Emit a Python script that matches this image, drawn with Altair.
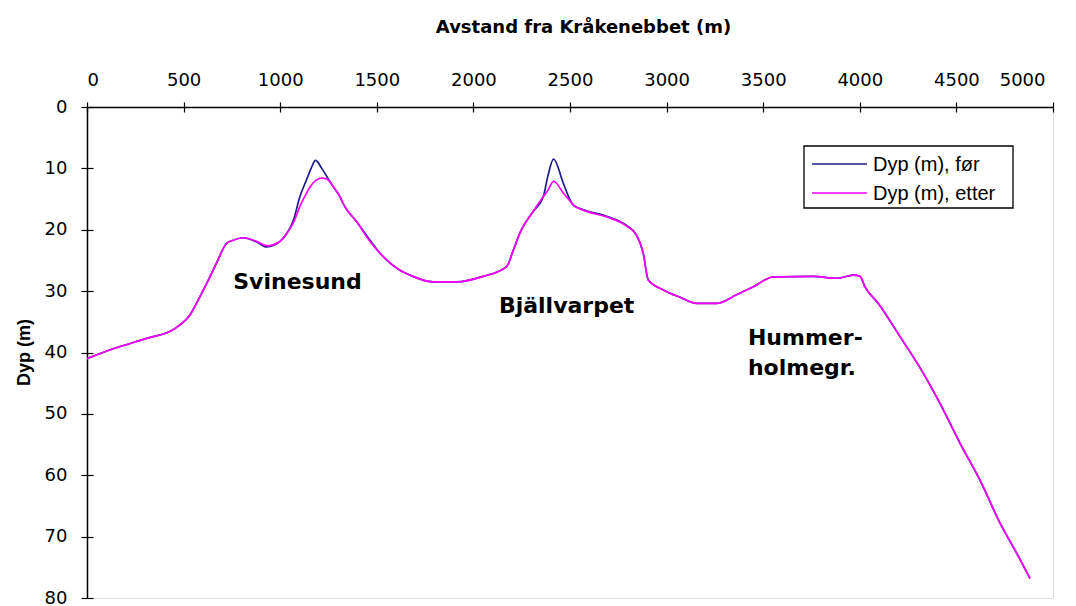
import altair as alt
import pandas as pd

# --- data ---
distance_m = [0, 136, 309, 445, 481, 533, 568, 620, 671, 723, 757, 808, 878, 930, 999,
              1034, 1068, 1102, 1137, 1160, 1183, 1215, 1241, 1275, 1309, 1330, 1396,
              1465, 1516, 1620, 1672, 1791, 1913, 2050, 2172, 2207, 2241, 2310, 2362,
              2385, 2415, 2465, 2500, 2517, 2586, 2690, 2793, 2845, 2879, 2905, 2983,
              3070, 3156, 3259, 3362, 3449, 3551, 3758, 3880, 3966, 4001, 4027, 4096,
              4208, 4329, 4415, 4519, 4622, 4726, 4812, 4881]

depth_after = [41.0, 39.4, 37.7, 36.3, 35.5, 33.9, 31.9, 28.7, 25.4, 22.2, 21.7, 21.3,
               21.9, 22.6, 21.9, 20.6, 18.9, 16.2, 14.0, 12.8, 12.0, 11.6, 11.7, 13.0,
               14.6, 16.0, 18.7, 21.9, 23.8, 26.6, 27.4, 28.5, 28.5, 27.6, 26.0, 23.3,
               20.5, 17.0, 14.6, 13.6, 12.1, 14.0, 15.3, 16.0, 17.0, 17.9, 19.4, 20.9,
               23.8, 28.2, 29.8, 31.0, 32.0, 32.0, 30.6, 29.3, 27.7, 27.6, 27.9, 27.4,
               27.6, 29.3, 32.0, 37.4, 43.4, 48.3, 54.8, 60.8, 67.8, 72.7, 76.8]

depth_before = [41.0, 39.4, 37.7, 36.3, 35.5, 33.9, 31.9, 28.7, 25.4, 22.2, 21.7, 21.3,
                22.0, 22.8, 21.9, 20.6, 18.5, 14.6, 11.8, 10.0, 8.7, 10.0, 11.3, 13.0,
                14.6, 16.0, 18.7, 21.7, 23.8, 26.6, 27.4, 28.5, 28.5, 27.6, 26.0, 23.3,
                20.5, 17.0, 14.6, 11.3, 8.5, 12.4, 15.1, 16.0, 16.9, 17.8, 19.3, 20.9,
                23.8, 28.2, 29.8, 31.0, 32.0, 32.0, 30.6, 29.3, 27.7, 27.6, 27.9, 27.4,
                27.6, 29.3, 32.0, 37.4, 43.4, 48.3, 54.8, 60.8, 67.8, 72.7, 76.8]

series_names = ["Dyp (m), før", "Dyp (m), etter"]
series_colors = ["#1c1c8c", "#ff00ff"]

x_ticks = [0, 500, 1000, 1500, 2000, 2500, 3000, 3500, 4000, 4500, 5000]
y_ticks = [0, 10, 20, 30, 40, 50, 60, 70, 80]

place_names = ["Svinesund", "Bjällvarpet", "Hummer-\nholmegr."]
place_x = [757, 2132, 3421]
place_depth = [29.7, 33.6, 38.8]

assert len(distance_m) == len(depth_after) == len(depth_before)

rows = []
for name, depths in zip(series_names, [depth_before, depth_after]):
    for x, d in zip(distance_m, depths):
        rows.append({"Avstand": x, "Dyp": d, "Serie": name})
df = pd.DataFrame(rows)
names_df = pd.DataFrame({"Avstand": place_x, "Dyp": place_depth, "Navn": place_names})

x_scale = alt.Scale(domain=[0, 5000], nice=False, zero=False)
y_scale = alt.Scale(domain=[0, 80], reverse=True, nice=False)
color_scale = alt.Scale(domain=series_names, range=series_colors)

lines = alt.Chart(df).mark_line(interpolate="monotone", strokeWidth=1.7).encode(
    x=alt.X("Avstand:Q", scale=x_scale,
            axis=alt.Axis(orient="top", values=x_ticks, format="d", grid=False,
                          domain=True, domainColor="black", domainWidth=1.5,
                          tickColor="black", tickSize=5, tickWidth=1.2,
                          labelFont="DejaVu Sans", labelFontSize=18, labelColor="black",
                          labelPadding=17, labelBaseline="alphabetic",
                          labelOffset={"condition": {"test": "datum.value == 5000",
                                                     "value": -8}, "value": 0},
                          title="Avstand fra Kråkenebbet (m)", titleFont="DejaVu Sans",
                          titleFontWeight="bold", titleFontSize=18, titleColor="black",
                          titleX=496, titleY=-75, titleBaseline="alphabetic",
                          titleAlign="center")),
    y=alt.Y("Dyp:Q", scale=y_scale,
            axis=alt.Axis(orient="left", values=y_ticks, format="d", grid=False,
                          domain=True, domainColor="black", domainWidth=1.5,
                          tickColor="black", tickSize=6, tickWidth=1.2,
                          labelFont="DejaVu Sans", labelFontSize=18, labelColor="black",
                          labelPadding=14,
                          title="Dyp (m)", titleFont="Liberation Sans",
                          titleFontWeight="bold", titleFontSize=18, titleColor="black",
                          titleX=-58, titleY=245, titleBaseline="alphabetic",
                          titleAlign="center", titleAngle=270)),
    color=alt.Color("Serie:N", scale=color_scale, legend=None),
)

names = alt.Chart(names_df).mark_text(
    align="left", baseline="alphabetic", font="DejaVu Sans", fontWeight="bold",
    fontSize=22, lineBreak="\n", lineHeight=30, color="black"
).encode(
    x=alt.X("Avstand:Q", scale=x_scale,
            axis=alt.Axis(orient="top", values=x_ticks, grid=False, domain=False,
                          labels=False, tickColor="black", tickSize=5, tickWidth=1.2,
                          offset=-5, title=None)),
    y=alt.Y("Dyp:Q", scale=y_scale,
            axis=alt.Axis(orient="left", values=y_ticks, grid=False, domain=False,
                          labels=False, tickColor="black", tickSize=6, tickWidth=1.2,
                          offset=-6, title=None)),
    text="Navn:N",
)

# legend box (drawn as a framed key in the upper right, like the original)
legend_df = pd.DataFrame({"Serie": series_names})
legend_box = alt.Chart(legend_df).transform_filter(
    alt.datum.Serie == series_names[0]
).mark_rect(fill="white", stroke="black", strokeWidth=1.3).encode(
    x=alt.value(717), x2=alt.value(926), y=alt.value(39), y2=alt.value(101)
)
legend_parts = [legend_box]
for i, name in enumerate(series_names):
    row_y = 57 + 29 * i
    base = alt.Chart(legend_df).transform_filter(alt.datum.Serie == name)
    legend_parts.append(
        base.mark_rule(strokeWidth=1.7).encode(
            x=alt.value(725), x2=alt.value(780), y=alt.value(row_y),
            color=alt.Color("Serie:N", scale=color_scale, legend=None))
    )
    legend_parts.append(
        base.mark_text(align="left", baseline="middle", font="Liberation Sans",
                       fontSize=20, color="black").encode(
            x=alt.value(786), y=alt.value(row_y + 1), text="Serie:N")
    )

chart = alt.layer(lines, names, *legend_parts).resolve_axis(
    x="independent", y="independent"
).properties(
    width=966, height=491,
    autosize=alt.AutoSizeParams(type="none"),
    padding={"left": 79, "top": 99, "right": 15, "bottom": 8},
).configure_view(stroke="#9a9a9a", strokeWidth=2.5).configure(background="white")

chart.save("out.html", embed_options={"renderer": "svg", "actions": False})
